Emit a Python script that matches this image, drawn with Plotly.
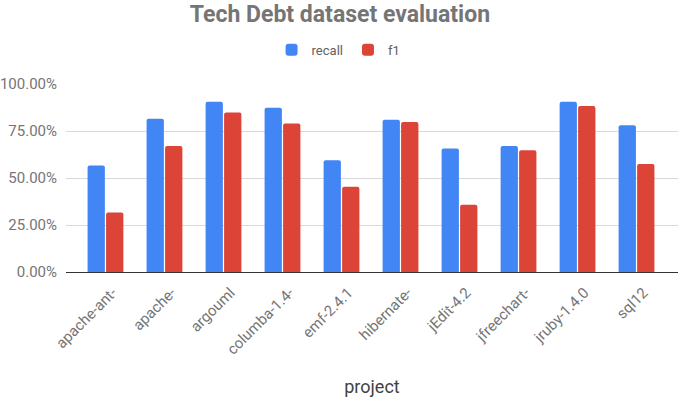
import plotly.graph_objects as go

projects = ["apache-ant-", "apache-", "argouml", "columba-1.4-", "emf-2.4.1",
            "hibernate-", "jEdit-4.2", "jfreechart-", "jruby-1.4.0", "sql12"]
recall = [0.567, 0.815, 0.906, 0.874, 0.594, 0.810, 0.657, 0.670, 0.906, 0.780]
f1 = [0.317, 0.670, 0.849, 0.790, 0.454, 0.798, 0.358, 0.647, 0.883, 0.574]

fig = go.Figure()
fig.add_trace(go.Bar(x=projects, y=recall, name="recall", marker_color="#4285F4",
                     marker_line_width=0, marker_cornerradius=2))
fig.add_trace(go.Bar(x=projects, y=f1, name="f1", marker_color="#DB4437",
                     marker_line_width=0, marker_cornerradius=2))

fig.update_layout(
    width=684, height=408,
    margin=dict(l=66, r=6, t=84, b=136),
    paper_bgcolor="white", plot_bgcolor="white",
    font=dict(family="Roboto", color="#757575", size=12),
    title=dict(text="<b>Tech Debt dataset evaluation</b>", x=0.497, xanchor="center",
               xref="container",
               y=0.965, yanchor="middle", font=dict(size=23, color="#757575")),
    legend=dict(orientation="h", x=0.495, xanchor="center", xref="container",
                y=0.915, yref="container",
                yanchor="top", font=dict(size=13, color="#616161"),
                itemwidth=30, traceorder="normal"),
    barmode="group", bargap=0.373, bargroupgap=0.065,
    xaxis=dict(tickangle=-45, showgrid=False, showline=False, ticks="",
               range=[-0.669, 9.703],
               tickfont=dict(size=15, color="#757575"), automargin=False,
               ticklabelshift=7, ticklabelstandoff=8,
               title=dict(text="project", font=dict(size=18, color="#424242"), standoff=23)),
    yaxis=dict(range=[0, 1.0], tickvals=[0, 0.25, 0.5, 0.75, 1.0], tickformat=".2%",
               gridcolor="#d9d9d9", zeroline=True, zerolinecolor="#333333", zerolinewidth=1,
               tickfont=dict(size=15, color="#757575"), ticks="", showline=False,
               ticklabelstandoff=8, automargin=False),
)
fig.write_html("out.html")
